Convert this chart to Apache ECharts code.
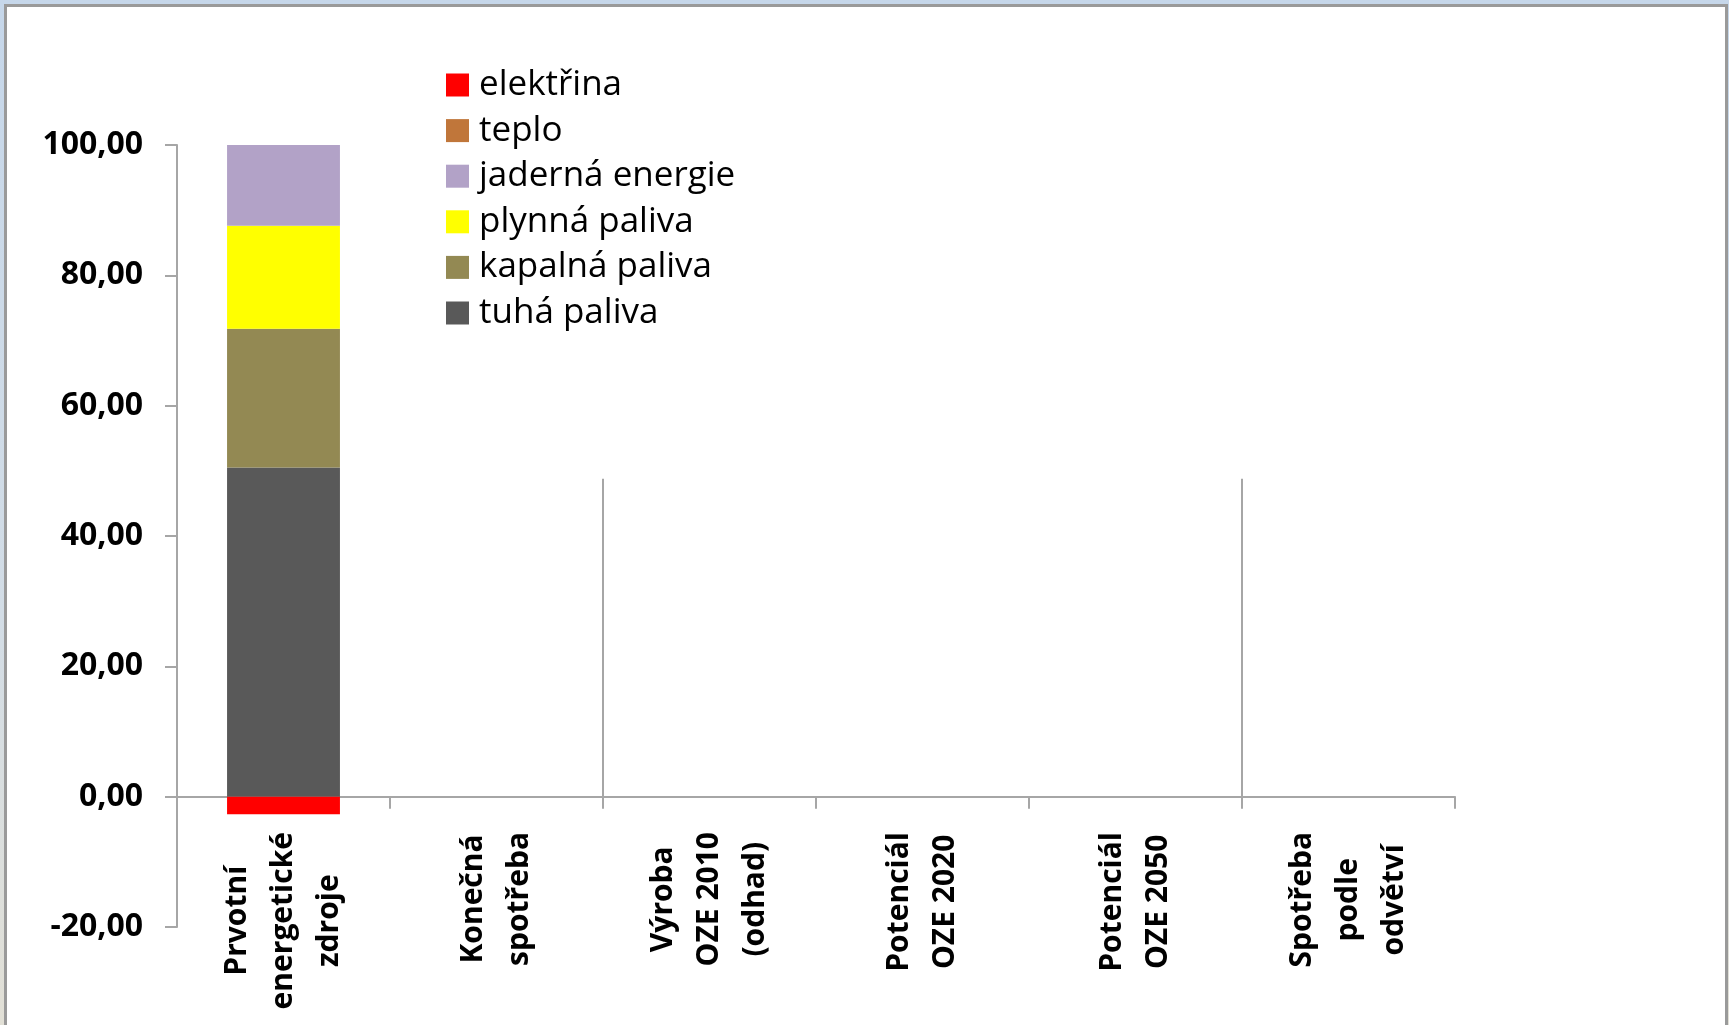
<!DOCTYPE html>
<html>
<head>
<meta charset="utf-8">
<script src="https://cdn.jsdelivr.net/npm/echarts@6/dist/echarts.min.js"></script>
<style>
  html, body { margin: 0; padding: 0; width: 1729px; height: 1025px; overflow: hidden;
    background: linear-gradient(180deg, #c6d7ea 0%, #d3dde6 60%, #e2e0d6 100%); }
  #frame { position: absolute; left: 4px; top: 4px; width: 1718px; height: 1030px;
    border: 3px solid #9a9a9a; border-bottom: none; background: #ffffff; box-sizing: content-box; }
  #chart { position: absolute; left: 0; top: 0; width: 1729px; height: 1025px; }
</style>
</head>
<body>
<div id="frame"></div>
<div id="chart"></div>
<script>
// ---- data ----
const categories = [
  'Prvotní\nenergetické\nzdroje',
  'Konečná\nspotřeba',
  'Výroba\nOZE 2010\n(odhad)',
  'Potenciál\nOZE 2020',
  'Potenciál\nOZE 2050',
  'Spotřeba\npodle\nodvětví'
];
const seriesNames = ['tuhá paliva', 'kapalná paliva', 'plynná paliva', 'jaderná energie', 'teplo', 'elektřina'];
const tuhaPaliva     = [50.5, null, null, null, null, null];
const kapalnaPaliva  = [21.3, null, null, null, null, null];
const plynnaPaliva   = [15.8, null, null, null, null, null];
const jadernaEnergie = [12.4, null, null, null, null, null];
const teplo          = [0,    null, null, null, null, null];
const elektrina      = [-2.7, null, null, null, null, null];
const legendOrder = ['elektřina', 'teplo', 'jaderná energie', 'plynná paliva', 'kapalná paliva', 'tuhá paliva'];
const seriesColors = ['#595959', '#938953', '#ffff00', '#b2a2c7', '#c0763a', '#ff0000'];
// separator lines at category boundaries (boundary index, top value)
const separatorBoundaries = [2, 5];
const separatorTops = [48.8, 48.8];
const yMin = -20, yMax = 100, yStep = 20;

const seriesValues = [tuhaPaliva, kapalnaPaliva, plynnaPaliva, jadernaEnergie, teplo, elektrina];

const chart = echarts.init(document.getElementById('chart'), null, { renderer: 'canvas' });
const axisColor = '#a6a6a6';
const font = '"Open Sans", "DejaVu Sans", sans-serif';

const barSeries = seriesNames.map((name, i) => ({
  name: name,
  type: 'bar',
  stack: 'total',
  barWidth: '53%',
  data: seriesValues[i],
  itemStyle: { color: seriesColors[i] },
  emphasis: { disabled: true },
  silent: true
}));

const sepSeries = {
  type: 'lines',
  coordinateSystem: 'cartesian2d',
  xAxisIndex: 1,
  yAxisIndex: 0,
  silent: true,
  lineStyle: { color: axisColor, width: 2, opacity: 1 },
  data: separatorBoundaries.map((b, i) => ({ coords: [[b, 0], [b, separatorTops[i]]] }))
};

chart.setOption({
  animation: false,
  backgroundColor: 'transparent',
  textStyle: { fontFamily: font },
  grid: { left: 177, right: 274, top: 145, bottom: 98, containLabel: false, outerBoundsMode: 'none' },
  legend: {
    data: legendOrder,
    orient: 'vertical',
    left: 441,
    top: 60,
    icon: 'rect',
    itemWidth: 23,
    itemHeight: 23,
    itemGap: 5.6,
    selectedMode: false,
    textStyle: { fontFamily: font, fontSize: 35, lineHeight: 40, color: '#000', padding: [0, 0, 0, 5] }
  },
  xAxis: [{
    type: 'category',
    data: categories,
    boundaryGap: true,
    axisLine: { show: true, onZero: true, lineStyle: { color: axisColor, width: 2 } },
    axisTick: { show: true, interval: 0, length: 12, lineStyle: { color: axisColor, width: 2 } },
    splitLine: { show: false },
    axisLabel: {
      interval: 0,
      rotate: 90,
      margin: -95,
      formatter: v => v.split('\n').map(l => '{c|' + l + '}').join('\n'),
      rich: {
        c: { fontFamily: font, fontSize: 30, fontWeight: 'bold', color: '#000', lineHeight: 46, align: 'center' }
      }
    }
  }, {
    type: 'value',
    min: 0,
    max: categories.length,
    show: false
  }],
  yAxis: {
    type: 'value',
    min: yMin,
    max: yMax,
    interval: yStep,
    axisLine: { show: true, lineStyle: { color: axisColor, width: 2 } },
    axisTick: { show: true, length: 12, lineStyle: { color: axisColor, width: 2 } },
    splitLine: { show: false },
    axisLabel: {
      margin: 34,
      fontFamily: font,
      fontSize: 32,
      fontWeight: 'bold',
      color: '#000',
      formatter: v => v.toFixed(2).replace('.', ',')
    }
  },
  series: barSeries.concat([sepSeries])
});
</script>
</body>
</html>
